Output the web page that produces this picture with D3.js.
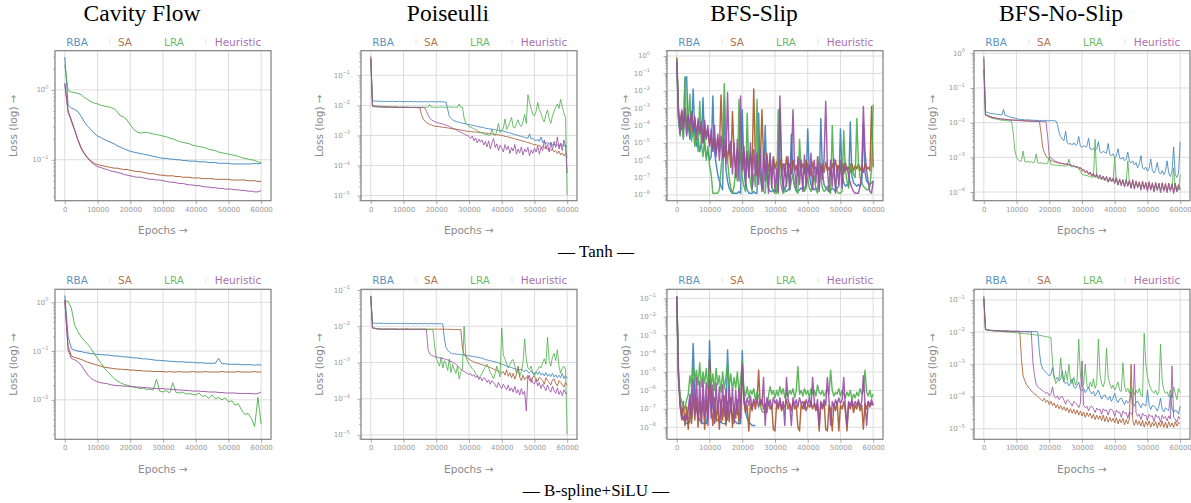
<!DOCTYPE html>
<html>
<head>
<meta charset="utf-8">
<script src="https://cdn.jsdelivr.net/npm/d3@7"></script>
<style>
  body { margin: 0; background: #fff; }
  svg { display: block; }
</style>
</head>
<body>
<script>
// names, colours and text
const methods = ["RBA", "SA", "LRA", "Heuristic"];
const colors = ["#377eb8", "#a65628", "#4daf4a", "#984ea3"];
const titles = ["Cavity Flow", "Poiseulli", "BFS-Slip", "BFS-No-Slip"];
const rowCaptions = ["\u2014 Tanh \u2014", "\u2014 B-spline+SiLU \u2014"];
const xTicks = [0, 10000, 20000, 30000, 40000, 50000, 60000];
const xLimits = [-3000, 63000];

// log10 axis limits and decade ticks, one per panel (row 1 then row 2)
const yLimits = [
  [-1.586, 0.561], [-5.17, -0.18], [-8.33, 0.305], [-4.25, 0.075],
  [-2.81, 0.267], [-5.12, -0.98], [-8.65, -0.51], [-5.33, -0.67],
];
const yTickExps = [
  [0, -1], [-1, -2, -3, -4, -5], [0, -1, -2, -3, -4, -5, -6, -7, -8], [0, -1, -2, -3, -4],
  [0, -1, -2], [-1, -2, -3, -4, -5], [-1, -2, -3, -4, -5, -6, -7, -8], [-1, -2, -3, -4, -5],
];
// epochs between two stored values
const steps = [1000, 500, 500, 500, 1000, 500, 500, 500];

// ---- loss values, log10 ----
// cavity flow, tanh (every 1000 epochs)
const cavTanhRBA = [0.47, -0.22, -0.26, -0.28, -0.31, -0.38, -0.46, -0.52, -0.57, -0.62, -0.66, -0.68, -0.71, -0.73, -0.75, -0.77, -0.80, -0.82, -0.84, -0.86, -0.88, -0.89, -0.90, -0.91, -0.92, -0.93, -0.94, -0.95, -0.96, -0.97, -0.98, -0.98, -0.99, -0.99, -1.00, -1.00, -1.01, -1.01, -1.02, -1.02, -1.02, -1.03, -1.03, -1.03, -1.04, -1.04, -1.04, -1.05, -1.05, -1.05, -1.05, -1.06, -1.06, -1.06, -1.06, -1.06, -1.06, -1.06, -1.05, -1.06, -1.05];
const cavTanhSA = [0.10, -0.30, -0.43, -0.57, -0.71, -0.83, -0.91, -0.97, -1.02, -1.05, -1.07, -1.08, -1.09, -1.10, -1.11, -1.12, -1.12, -1.13, -1.14, -1.14, -1.15, -1.16, -1.17, -1.17, -1.18, -1.19, -1.20, -1.20, -1.21, -1.22, -1.22, -1.23, -1.23, -1.23, -1.24, -1.24, -1.25, -1.25, -1.25, -1.26, -1.26, -1.26, -1.27, -1.27, -1.27, -1.27, -1.28, -1.28, -1.28, -1.28, -1.28, -1.29, -1.29, -1.29, -1.29, -1.29, -1.30, -1.30, -1.30, -1.31, -1.31];
const cavTanhLRA = [0.36, -0.01, -0.03, -0.04, -0.05, -0.07, -0.11, -0.14, -0.17, -0.19, -0.20, -0.22, -0.23, -0.24, -0.25, -0.27, -0.31, -0.37, -0.39, -0.43, -0.50, -0.56, -0.60, -0.62, -0.61, -0.61, -0.62, -0.63, -0.64, -0.65, -0.66, -0.67, -0.69, -0.70, -0.72, -0.74, -0.75, -0.76, -0.77, -0.79, -0.80, -0.81, -0.82, -0.83, -0.85, -0.86, -0.87, -0.89, -0.90, -0.91, -0.92, -0.93, -0.94, -0.95, -0.97, -0.98, -0.99, -1.00, -1.01, -1.03, -1.04];
const cavTanhHeur = [0.08, -0.32, -0.45, -0.58, -0.72, -0.84, -0.92, -0.98, -1.03, -1.07, -1.10, -1.11, -1.13, -1.14, -1.16, -1.17, -1.18, -1.19, -1.21, -1.22, -1.23, -1.24, -1.25, -1.25, -1.26, -1.27, -1.28, -1.28, -1.29, -1.29, -1.30, -1.31, -1.32, -1.32, -1.33, -1.34, -1.34, -1.35, -1.36, -1.36, -1.37, -1.37, -1.38, -1.39, -1.39, -1.40, -1.40, -1.41, -1.41, -1.42, -1.42, -1.42, -1.43, -1.43, -1.44, -1.44, -1.45, -1.45, -1.46, -1.46, -1.44];

// poiseulli, tanh (every 500 epochs)
const poisTanhRBA = [-0.40,
  -1.84, -1.85, -1.86, -1.86, -1.86, -1.87, -1.86, -1.87, -1.87, -1.86,
  -1.87, -1.87, -1.86, -1.87, -1.87, -1.87, -1.86, -1.87, -1.87, -1.88,
  -1.87, -1.87, -1.88, -1.87, -1.87, -1.88, -1.87, -1.88, -1.88, -1.87,
  -1.88, -1.88, -1.87, -1.88, -1.88, -1.88, -1.87, -1.88, -1.88, -1.88,
  -1.88, -1.87, -1.88, -1.88, -1.89, -1.89, -2.14, -2.37, -2.43, -2.48,
  -2.51, -2.53, -2.55, -2.56, -2.58, -2.59, -2.60, -2.61, -2.63, -2.64,
  -2.65, -2.66, -2.67, -2.68, -2.70, -2.71, -2.72, -2.73, -2.74, -2.76,
  -2.77, -2.78, -2.78, -2.79, -2.80, -2.81, -2.82, -2.83, -2.83, -2.84,
  -2.86, -2.87, -2.89, -2.90, -2.92, -2.93, -2.95, -2.97, -2.98, -3.00,
  -3.02, -3.03, -3.05, -3.06, -3.08, -3.09, -2.95, -3.12, -3.10, -3.14,
  -3.18, -3.12, -3.20, -3.05, -3.24, -3.20, -3.28, -3.22, -3.30, -3.22,
  -3.33, -3.28, -3.34, -3.30, -3.37, -3.25, -3.36, -3.30, -3.38, -3.35];
const poisTanhSA = [-0.37,
  -2.00, -2.01, -2.02, -2.02, -2.03, -2.03, -2.03, -2.04, -2.04, -2.04,
  -2.04, -2.05, -2.05, -2.05, -2.05, -2.05, -2.06, -2.06, -2.06, -2.06,
  -2.06, -2.06, -2.07, -2.07, -2.07, -2.07, -2.07, -2.07, -2.08, -2.08,
  -2.31, -2.45, -2.52, -2.57, -2.60, -2.63, -2.65, -2.67, -2.69, -2.70,
  -2.70, -2.71, -2.72, -2.73, -2.73, -2.74, -2.75, -2.76, -2.77, -2.78,
  -2.78, -2.79, -2.80, -2.81, -2.82, -2.83, -2.84, -2.85, -2.86, -2.87,
  -2.87, -2.88, -2.88, -2.89, -2.89, -2.90, -2.90, -2.91, -2.91, -2.92,
  -2.93, -2.94, -2.94, -2.95, -2.96, -2.97, -2.97, -2.98, -2.99, -3.00,
  -3.01, -3.03, -3.04, -3.05, -3.07, -3.08, -3.10, -3.11, -3.13, -3.14,
  -3.16, -3.17, -3.19, -3.20, -3.22, -3.24, -3.25, -3.27, -3.29, -3.31,
  -3.30, -3.35, -3.32, -3.40, -3.36, -3.42, -3.40, -3.47, -3.44, -3.50,
  -3.46, -3.55, -3.50, -3.60, -3.52, -3.65, -3.58, -3.68, -3.60, -3.72];
const poisTanhLRA = [-0.50,
  -2.02, -2.03, -2.04, -2.04, -2.05, -2.05, -2.05, -2.05, -2.06, -2.05,
  -2.06, -2.05, -2.06, -2.06, -2.05, -2.06, -2.06, -2.06, -2.05, -2.06,
  -2.06, -2.06, -2.05, -2.06, -2.06, -2.06, -2.06, -2.06, -2.06, -2.06,
  -2.06, -2.06, -2.06, -2.06, -2.06, -1.97, -2.06, -2.06, -2.06, -2.06,
  -2.06, -2.06, -2.05, -2.06, -2.06, -2.06, -2.06, -2.05, -2.06, -2.06,
  -2.06, -2.06, -2.06, -1.95, -2.06, -2.06, -2.42, -2.59, -2.65, -2.70,
  -2.72, -2.75, -2.78, -2.81, -2.84, -2.87, -2.89, -2.92, -2.94, -2.97,
  -2.96, -3.00, -2.98, -2.80, -2.95, -3.00, -2.85, -2.60, -2.90, -2.85,
  -2.75, -2.45, -2.80, -2.70, -2.55, -2.40, -2.72, -2.75, -2.60, -2.48,
  -2.65, -2.70, -2.55, -2.30, -2.60, -1.65, -1.90, -2.10, -2.30, -2.35,
  -2.20, -1.90, -2.15, -2.25, -2.45, -2.55, -2.30, -2.15, -2.45, -2.60,
  -2.35, -2.20, -2.05, -1.95, -2.10, -1.80, -2.05, -2.25, -2.40, -4.98];
const poisTanhHeur = [-0.45,
  -2.03, -2.04, -2.05, -2.05, -2.05, -2.06, -2.06, -2.06, -2.06, -2.06,
  -2.06, -2.06, -2.07, -2.07, -2.07, -2.07, -2.07, -2.07, -2.07, -2.07,
  -2.07, -2.07, -2.07, -2.07, -2.07, -2.07, -2.07, -2.07, -2.07, -2.07,
  -2.07, -2.07, -2.08, -2.20, -2.32, -2.42, -2.48, -2.51, -2.54, -2.56,
  -2.58, -2.59, -2.61, -2.62, -2.64, -2.66, -2.68, -2.70, -2.73, -2.76,
  -2.78, -2.81, -2.84, -2.87, -2.89, -2.92, -2.95, -2.98, -3.00, -3.03,
  -3.10, -3.02, -3.18, -3.08, -3.25, -3.12, -3.22, -3.15, -3.32, -3.20,
  -3.38, -3.18, -3.45, -3.25, -3.10, -3.40, -3.28, -3.50, -3.32, -3.42,
  -3.55, -3.30, -3.48, -3.35, -3.60, -3.40, -3.52, -3.30, -3.62, -3.45,
  -3.58, -3.38, -3.65, -3.45, -3.55, -3.40, -3.68, -3.48, -3.60, -3.42,
  -3.55, -3.35, -3.62, -3.40, -3.50, -3.15, -3.45, -3.30, -3.55, -3.25,
  -3.48, -3.20, -3.40, -3.05, -3.45, -3.28, -3.50, -3.15, -3.35, -4.25];

// bfs slip, tanh (every 500 epochs)
const slipTanhRBA = [-0.3,
  -3.6, -4.4, -3.9, -4.7, -1.3, -1.2, -4.0, -4.8, -4.3, -1.9,
  -4.5, -5.2, -4.8, -5.5, -5.0, -2.4, -5.2, -5.8, -5.5, -6.0,
  -5.8, -2.3, -5.5, -6.2, -6.8, -7.2, -7.5, -7.7, -2.5, -6.5,
  -7.2, -7.6, -7.8, -7.9, -7.9, -7.9, -7.9, -7.8, -7.9, -3.1,
  -6.5, -7.3, -7.7, -7.9, -7.9, -7.9, -7.8, -7.9, -7.9, -3.3,
  -6.8, -7.4, -7.7, -4.0, -7.0, -7.6, -7.8, -7.8, -7.7, -7.8,
  -7.7, -7.8, -3.1, -6.8, -7.4, -7.7, -7.8, -7.7, -7.6, -4.5,
  -7.0, -7.5, -7.7, -7.8, -7.7, -7.6, -7.7, -7.6, -7.5, -4.2,
  -6.9, -7.4, -7.6, -7.7, -7.6, -7.7, -7.5, -3.6, -6.8, -7.4,
  -7.6, -7.7, -7.8, -7.7, -7.6, -7.7, -7.8, -7.6, -7.5, -4.2,
  -6.8, -7.3, -7.5, -7.4, -7.5, -3.8, -6.9, -7.3, -7.4, -7.5,
  -7.4, -7.5, -7.3, -3.9, -6.7, -7.2, -7.3, -7.4, -7.3, -7.2];
const slipTanhSA = [-0.08,
  -3.0, -3.9, -3.2, -4.3, -3.1, -4.0, -3.4, -4.5, -3.3, -4.2,
  -3.6, -4.6, -3.8, -4.4, -3.9, -5.0, -4.1, -4.8, -4.3, -5.1,
  -4.6, -5.4, -4.8, -5.6, -4.7, -5.5, -2.25, -5.0, -5.8, -5.2,
  -6.0, -5.1, -6.4, -3.2, -5.5, -6.5, -5.4, -6.2, -5.6, -6.6,
  -5.5, -6.3, -5.7, -6.8, -5.6, -6.5, -1.9, -5.8, -6.9, -5.7,
  -6.4, -3.1, -5.9, -6.7, -5.6, -6.6, -6.0, -6.9, -5.8, -6.5,
  -6.1, -6.8, -5.9, -6.6, -6.2, -6.9, -5.8, -6.5, -6.2, -6.8,
  -6.0, -6.6, -6.3, -6.9, -5.9, -6.5, -6.2, -6.8, -6.0, -6.6,
  -6.3, -6.9, -6.1, -6.5, -6.4, -6.8, -6.0, -6.6, -6.3, -6.7,
  -6.1, -6.6, -6.4, -6.9, -6.2, -6.5, -6.0, -6.7, -6.3, -6.6,
  -6.2, -6.8, -6.1, -6.5, -6.4, -6.7, -6.2, -6.6, -6.3, -6.5,
  -6.2, -6.6, -6.3, -6.7, -6.2, -6.5, -6.4, -6.6, -2.9, -6.4];
const slipTanhLRA = [-0.2,
  -3.5, -4.6, -3.2, -4.8, -1.2, -4.5, -3.8, -2.2, -4.9, -4.2,
  -5.2, -4.4, -5.5, -2.6, -5.0, -5.8, -4.8, -6.0, -5.2, -6.3,
  -6.8, -7.9, -7.9, -7.9, -7.9, -7.7, -6.5, -5.5, -1.6, -5.0,
  -6.0, -7.0, -7.6, -7.9, -7.5, -6.5, -7.2, -2.5, -6.0, -7.0,
  -7.5, -7.8, -3.3, -6.5, -7.3, -7.8, -6.8, -7.5, -2.5, -6.2,
  -7.0, -7.6, -7.8, -7.9, -6.6, -7.4, -5.6, -7.5, -7.8, -7.9,
  -7.9, -3.1, -6.8, -7.6, -7.9, -7.8, -7.3, -6.5, -7.7, -7.2,
  -6.8, -7.5, -7.8, -7.9, -4.8, -6.6, -7.4, -7.8, -7.6, -7.0,
  -7.6, -7.8, -7.3, -6.9, -7.7, -7.9, -5.8, -7.0, -7.6, -7.8,
  -7.7, -7.5, -7.8, -7.9, -4.0, -6.8, -7.5, -7.8, -7.9, -7.9,
  -7.8, -4.3, -6.5, -7.2, -7.6, -6.2, -6.5, -6.8, -7.0, -3.6,
  -6.2, -7.0, -7.3, -7.5, -7.6, -7.7, -7.7, -7.5, -6.5, -2.8];
const slipTanhHeur = [-0.3,
  -3.3, -4.5, -3.1, -4.2, -3.0, -4.6, -3.4, -4.0, -3.2, -4.4,
  -3.5, -4.8, -3.6, -4.5, -3.8, -5.0, -3.7, -4.7, -4.0, -5.2,
  -4.2, -5.5, -4.0, -5.8, -4.5, -6.0, -4.6, -5.9, -4.8, -6.2,
  -2.1, -5.6, -4.9, -6.8, -5.0, -7.0, -4.8, -7.2, -2.3, -6.5,
  -5.2, -7.5, -5.5, -7.0, -5.0, -7.6, -5.4, -6.9, -5.6, -7.4,
  -5.3, -7.8, -5.5, -7.2, -5.8, -7.9, -5.6, -7.6, -5.9, -7.8,
  -6.5, -7.9, -2.3, -6.0, -7.8, -6.2, -7.5, -5.8, -7.7, -6.0,
  -3.1, -6.5, -7.6, -5.8, -7.4, -6.0, -7.8, -5.7, -7.5, -6.2,
  -7.0, -5.6, -7.7, -6.0, -7.3, -5.8, -7.8, -6.2, -7.1, -5.9,
  -2.6, -6.4, -7.8, -6.0, -7.5, -5.9, -7.9, -6.3, -7.4, -6.0,
  -7.6, -6.2, -6.6, -6.4, -6.9, -7.3, -7.6, -7.8, -7.9, -7.9,
  -7.9, -7.5, -6.8, -2.9, -5.5, -6.6, -7.3, -7.8, -7.9, -7.2];

// bfs no-slip, tanh (every 500 epochs)
const nsTanhRBA = [-0.15,
  -1.68, -1.70, -1.72, -1.73, -1.74, -1.74, -1.75, -1.76, -1.76, -1.77,
  -1.78, -1.62, -1.79, -1.80, -1.82, -1.84, -1.85, -1.86, -1.87, -1.88,
  -1.90, -1.91, -1.91, -1.91, -1.92, -1.92, -1.92, -1.92, -1.93, -1.93,
  -1.93, -1.94, -1.93, -1.94, -1.94, -1.93, -1.94, -1.94, -1.94, -1.95,
  -1.94, -1.94, -1.95, -1.95, -2.05, -2.29, -2.40, -2.48, -2.52, -2.25,
  -2.58, -2.62, -2.60, -2.64, -2.58, -2.66, -2.62, -2.40, -2.68, -2.72,
  -2.66, -2.70, -2.68, -2.45, -2.76, -2.78, -2.74, -2.80, -2.76, -2.55,
  -2.84, -2.87, -2.82, -2.86, -2.88, -2.60, -2.92, -2.95, -2.90, -3.01,
  -2.96, -2.75, -3.02, -3.05, -3.00, -3.10, -3.05, -2.85, -3.12, -3.16,
  -3.10, -3.22, -3.15, -3.30, -3.20, -2.95, -3.30, -3.35, -3.28, -3.40,
  -3.32, -3.05, -3.38, -3.45, -3.35, -3.15, -3.42, -3.48, -3.38, -3.50,
  -3.40, -3.10, -3.45, -3.55, -3.42, -2.70, -3.50, -3.58, -3.45, -2.55];
const nsTanhSA = [-0.09,
  -1.76, -1.78, -1.80, -1.82, -1.84, -1.85, -1.86, -1.87, -1.88, -1.88,
  -1.89, -1.90, -1.90, -1.91, -1.91, -1.92, -1.92, -1.92, -1.93, -1.93,
  -1.93, -1.94, -1.94, -1.94, -1.95, -1.95, -1.95, -1.95, -1.96, -1.96,
  -1.96, -1.96, -1.96, -1.97, -2.30, -2.72, -2.86, -2.96, -3.02, -3.06,
  -3.09, -3.11, -3.13, -3.14, -3.15, -3.16, -3.17, -3.18, -3.19, -3.20,
  -3.18, -3.23, -3.21, -3.25, -3.24, -3.28, -3.26, -3.32, -3.30, -3.40,
  -3.38, -3.45, -3.40, -3.50, -3.44, -3.55, -3.48, -3.58, -3.50, -3.60,
  -3.52, -3.62, -3.55, -3.66, -3.56, -3.70, -3.58, -3.68, -3.62, -3.72,
  -3.58, -3.80, -3.62, -3.78, -3.64, -3.85, -3.63, -3.82, -3.66, -3.88,
  -3.64, -3.90, -3.68, -3.86, -3.70, -3.92, -3.68, -3.90, -3.72, -3.95,
  -3.70, -3.92, -3.73, -3.96, -3.72, -3.93, -3.74, -3.98, -3.73, -3.95,
  -3.75, -3.98, -3.74, -3.95, -3.76, -4.00, -3.74, -3.97, -3.78, -3.92];
const nsTanhLRA = [-0.50,
  -1.78, -1.80, -1.83, -1.85, -1.87, -1.88, -1.89, -1.90, -1.91, -1.92,
  -1.93, -1.93, -1.94, -1.94, -1.95, -1.95, -1.96, -2.30, -2.80, -3.01,
  -3.07, -3.11, -3.10, -2.82, -3.12, -3.13, -3.12, -3.14, -3.13, -3.15,
  -3.14, -2.90, -3.16, -3.17, -3.15, -3.18, -3.17, -3.19, -3.18, -2.98,
  -3.21, -3.22, -3.21, -3.23, -3.22, -3.24, -3.23, -3.24, -3.25, -3.25,
  -3.24, -3.05, -3.26, -3.27, -3.26, -3.28, -3.29, -3.32, -3.40, -3.49,
  -3.50, -3.53, -3.52, -3.55, -3.54, -3.58, -3.56, -2.48, -3.58, -3.60,
  -3.62, -3.60, -3.64, -3.62, -3.66, -3.64, -3.68, -3.65, -3.70, -3.00,
  -3.70, -3.72, -3.70, -3.74, -3.72, -3.75, -3.73, -3.10, -3.76, -3.78,
  -3.76, -3.80, -3.78, -3.82, -3.80, -3.83, -3.82, -3.85, -3.83, -3.86,
  -3.84, -3.88, -3.85, -3.87, -3.86, -3.88, -3.87, -3.90, -3.88, -3.90,
  -3.89, -3.92, -3.90, -3.91, -3.90, -3.30, -3.92, -3.90, -3.94, -3.50];
const nsTanhHeur = [-0.45,
  -1.78, -1.80, -1.82, -1.84, -1.85, -1.86, -1.87, -1.88, -1.89, -1.89,
  -1.90, -1.90, -1.91, -1.91, -1.92, -1.92, -1.93, -1.93, -1.93, -1.93,
  -1.94, -1.94, -1.94, -1.95, -1.95, -1.95, -1.95, -1.96, -1.96, -1.96,
  -1.96, -1.96, -1.96, -1.97, -1.97, -1.97, -1.97, -1.97, -2.40, -2.96,
  -3.02, -3.05, -3.09, -3.12, -3.14, -3.16, -3.17, -3.18, -3.19, -3.20,
  -3.19, -3.22, -3.20, -3.26, -3.24, -3.28, -3.26, -3.31, -3.29, -3.35,
  -3.34, -3.42, -3.38, -3.47, -3.42, -3.52, -3.46, -3.56, -3.48, -3.60,
  -3.50, -3.64, -3.54, -3.67, -3.55, -3.72, -3.57, -3.70, -3.60, -3.76,
  -3.60, -3.80, -3.64, -3.83, -3.65, -3.86, -3.66, -3.84, -3.68, -3.90,
  -3.66, -3.92, -3.70, -3.88, -3.72, -3.95, -3.70, -3.92, -3.74, -3.98,
  -3.72, -3.95, -3.75, -4.00, -3.74, -3.96, -3.76, -4.02, -3.75, -3.98,
  -3.77, -4.02, -3.76, -3.98, -3.78, -4.05, -3.76, -4.00, -3.80, -3.95];

// cavity flow, b-spline+silu (every 1000 epochs)
const cavSplRBA = [0.14, -0.70, -0.95, -0.98, -1.00, -1.01, -1.03, -1.04, -1.05, -1.06, -1.07, -1.07, -1.08, -1.08, -1.09, -1.10, -1.10, -1.11, -1.12, -1.12, -1.13, -1.14, -1.14, -1.15, -1.16, -1.16, -1.17, -1.18, -1.19, -1.19, -1.20, -1.20, -1.21, -1.21, -1.22, -1.22, -1.22, -1.23, -1.23, -1.23, -1.24, -1.24, -1.24, -1.25, -1.25, -1.25, -1.25, -1.15, -1.26, -1.26, -1.27, -1.27, -1.27, -1.27, -1.28, -1.28, -1.28, -1.28, -1.29, -1.28, -1.29];
const cavSplSA = [0.03, -0.91, -1.10, -1.13, -1.15, -1.17, -1.20, -1.23, -1.25, -1.27, -1.29, -1.31, -1.33, -1.34, -1.35, -1.36, -1.37, -1.37, -1.38, -1.38, -1.39, -1.39, -1.40, -1.40, -1.41, -1.41, -1.41, -1.42, -1.42, -1.42, -1.42, -1.43, -1.42, -1.43, -1.43, -1.42, -1.43, -1.43, -1.43, -1.42, -1.43, -1.43, -1.43, -1.42, -1.43, -1.43, -1.43, -1.43, -1.42, -1.43, -1.43, -1.43, -1.43, -1.42, -1.43, -1.43, -1.43, -1.43, -1.42, -1.43, -1.43];
const cavSplLRA = [0.03, 0.02, -0.12, -0.47, -0.60, -0.71, -0.79, -0.86, -0.95, -1.05, -1.15, -1.25, -1.34, -1.42, -1.49, -1.56, -1.61, -1.65, -1.68, -1.70, -1.72, -1.74, -1.75, -1.77, -1.76, -1.79, -1.78, -1.80, -1.58, -1.82, -1.84, -1.81, -1.86, -1.65, -1.85, -1.86, -1.84, -1.88, -1.87, -1.89, -1.90, -1.86, -1.93, -1.91, -1.97, -1.90, -1.98, -1.95, -2.00, -1.96, -2.04, -2.02, -2.11, -2.08, -2.21, -2.30, -2.28, -2.38, -2.55, -1.95, -2.50];
const cavSplHeur = [0.05, -0.98, -1.15, -1.18, -1.22, -1.29, -1.39, -1.49, -1.56, -1.60, -1.63, -1.65, -1.66, -1.67, -1.69, -1.70, -1.71, -1.71, -1.72, -1.72, -1.73, -1.73, -1.74, -1.74, -1.75, -1.75, -1.76, -1.76, -1.77, -1.77, -1.77, -1.78, -1.78, -1.79, -1.79, -1.80, -1.80, -1.81, -1.81, -1.82, -1.82, -1.82, -1.83, -1.83, -1.84, -1.84, -1.84, -1.85, -1.85, -1.86, -1.86, -1.86, -1.86, -1.87, -1.87, -1.87, -1.87, -1.87, -1.88, -1.87, -1.84];

// poiseulli, b-spline+silu (every 500 epochs)
const poisSplRBA = [-1.17,
  -1.90, -1.91, -1.92, -1.92, -1.91, -1.92, -1.92, -1.92, -1.93, -1.92,
  -1.92, -1.92, -1.93, -1.92, -1.92, -1.93, -1.92, -1.92, -1.93, -1.92,
  -1.93, -1.92, -1.93, -1.92, -1.93, -1.93, -1.92, -1.93, -1.93, -1.92,
  -1.93, -1.93, -1.92, -1.93, -1.93, -1.93, -1.92, -1.93, -1.93, -1.93,
  -1.93, -1.93, -1.93, -1.94, -2.36, -2.59, -2.66, -2.71, -2.74, -2.76,
  -2.76, -2.77, -2.77, -2.78, -2.78, -2.79, -2.79, -2.80, -2.81, -2.82,
  -2.82, -2.83, -2.84, -2.85, -2.85, -2.86, -2.87, -2.88, -2.90, -2.92,
  -2.93, -2.94, -2.95, -2.96, -2.97, -2.98, -2.99, -3.01, -3.03, -3.05,
  -3.06, -3.08, -3.10, -3.11, -3.13, -3.14, -3.16, -3.17, -3.19, -3.21,
  -3.20, -3.18, -3.23, -3.25, -3.20, -3.27, -3.28, -3.22, -3.30, -3.31,
  -3.26, -3.33, -3.25, -3.35, -3.30, -3.37, -3.28, -3.38, -3.32, -3.39,
  -3.30, -3.40, -3.34, -3.42, -3.35, -3.42, -3.30, -3.44, -3.36, -3.44];
const poisSplSA = [-1.17,
  -2.04, -2.05, -2.06, -2.07, -2.07, -2.07, -2.08, -2.07, -2.08, -2.08,
  -2.07, -2.08, -2.08, -2.08, -2.07, -2.08, -2.08, -2.08, -2.08, -2.08,
  -2.08, -2.07, -2.08, -2.08, -2.08, -2.08, -2.08, -2.08, -2.08, -2.08,
  -2.08, -2.08, -2.08, -2.08, -2.08, -2.08, -2.08, -2.08, -2.08, -2.08,
  -2.08, -2.08, -2.08, -2.08, -2.08, -2.08, -2.09, -2.08, -2.09, -2.09,
  -2.09, -2.09, -2.09, -2.09, -2.09, -2.60, -2.78, -2.84, -2.87, -2.91,
  -2.94, -2.96, -2.99, -3.00, -3.02, -3.03, -3.05, -3.06, -3.07, -3.09,
  -3.10, -3.12, -3.14, -3.16, -3.18, -3.20, -3.22, -3.24, -3.26, -3.30,
  -3.25, -3.35, -3.20, -3.38, -3.28, -3.42, -3.30, -3.46, -3.32, -3.10,
  -3.40, -3.50, -3.35, -3.48, -3.40, -3.42, -3.36, -3.55, -3.40, -3.38,
  -3.45, -3.52, -3.40, -3.45, -3.50, -3.60, -3.42, -3.50, -3.55, -3.62,
  -3.48, -3.45, -3.58, -3.65, -3.50, -3.55, -3.62, -3.68, -3.55, -3.62];
const poisSplLRA = [-1.17,
  -2.04, -2.05, -2.06, -2.07, -2.07, -2.08, -2.08, -2.08, -2.07, -2.08,
  -2.08, -2.08, -2.08, -2.07, -2.08, -2.08, -2.08, -2.08, -2.08, -2.08,
  -2.08, -2.08, -2.08, -2.08, -2.08, -2.08, -2.08, -2.08, -2.08, -2.08,
  -2.08, -2.08, -2.08, -2.08, -2.09, -2.09, -2.09, -2.10, -2.54, -2.87,
  -3.00, -3.10, -2.85, -3.15, -2.95, -3.05, -3.22, -2.90, -3.28, -3.05,
  -3.20, -3.30, -3.10, -3.46, -3.25, -3.20, -2.00, -2.80, -2.95, -3.05,
  -3.10, -3.17, -3.22, -3.30, -3.36, -3.42, -3.38, -3.30, -3.20, -3.12,
  -3.05, -3.15, -3.28, -3.35, -3.45, -3.30, -3.10, -3.25, -3.40, -2.05,
  -2.80, -2.90, -3.05, -3.15, -3.05, -2.95, -2.92, -3.10, -3.30, -3.20,
  -3.38, -3.25, -3.00, -2.35, -2.90, -3.15, -3.20, -3.10, -3.30, -3.38,
  -3.25, -3.20, -3.10, -3.15, -3.00, -2.90, -3.05, -2.30, -2.95, -3.10,
  -2.85, -2.75, -2.95, -2.65, -3.10, -3.30, -3.15, -3.10, -3.20, -4.98];
const poisSplHeur = [-1.17,
  -2.05, -2.06, -2.07, -2.08, -2.08, -2.08, -2.09, -2.08, -2.08, -2.09,
  -2.08, -2.08, -2.09, -2.08, -2.09, -2.08, -2.09, -2.09, -2.08, -2.09,
  -2.09, -2.08, -2.09, -2.09, -2.09, -2.09, -2.09, -2.09, -2.09, -2.09,
  -2.09, -2.09, -2.09, -2.10, -2.64, -2.77, -2.80, -2.82, -2.84, -2.85,
  -2.86, -2.87, -2.88, -2.89, -2.90, -2.92, -2.93, -2.95, -2.97, -2.99,
  -3.02, -3.05, -3.09, -3.14, -3.18, -3.23, -3.25, -3.28, -3.30, -3.33,
  -3.30, -3.38, -3.33, -3.42, -3.36, -3.47, -3.40, -3.51, -3.42, -3.45,
  -3.55, -3.48, -3.60, -3.50, -3.55, -3.62, -3.69, -3.55, -3.65, -3.72,
  -3.60, -3.68, -3.75, -3.62, -3.79, -3.70, -3.82, -3.66, -3.85, -3.75,
  -3.90, -3.72, -3.88, -3.80, -4.34, -3.35, -3.50, -3.45, -3.55, -3.60,
  -3.45, -3.65, -3.55, -3.72, -3.60, -3.68, -3.78, -3.62, -3.75, -3.82,
  -3.65, -3.78, -3.85, -3.70, -3.88, -3.78, -3.92, -3.75, -3.85, -3.85];

// bfs slip, b-spline+silu (every 500 epochs, RBA stops at 24000)
const slipSplRBA = [-0.9,
  -5.2, -6.5, -7.2, -7.5, -7.7, -7.8, -7.8, -7.7, -6.0, -3.45,
  -6.2, -7.0, -7.4, -7.6, -7.7, -7.8, -7.8, -7.8, -7.2, -3.3,
  -6.0, -6.9, -7.3, -7.5, -7.6, -7.7, -7.7, -7.8, -7.8, -7.8,
  -3.8, -6.3, -7.0, -7.4, -7.6, -7.7, -7.8, -7.8, -7.8, -3.85,
  -6.5, -7.2, -7.5, -7.7, -7.8, -7.9, -7.9, -7.9];
const slipSplSA = [-0.9,
  -5.0, -6.8, -7.6, -6.6, -7.9, -6.9, -8.1, -6.5, -7.8, -6.2,
  -7.6, -6.4, -8.0, -6.6, -7.7, -6.3, -8.1, -6.5, -7.5, -4.35,
  -6.8, -7.9, -6.4, -7.7, -6.6, -8.1, -6.5, -7.6, -6.3, -7.9,
  -6.6, -7.7, -6.4, -8.0, -6.7, -7.5, -6.5, -7.8, -6.6, -4.8,
  -6.6, -7.2, -6.8, -8.2, -6.7, -7.1, -6.5, -7.0, -6.6, -4.9,
  -6.8, -6.5, -7.0, -6.7, -7.2, -6.6, -7.0, -6.8, -8.1, -8.2,
  -6.7, -7.0, -6.6, -7.1, -6.8, -6.9, -6.5, -7.0, -6.7, -7.1,
  -6.6, -7.0, -6.8, -8.0, -8.2, -6.7, -7.0, -6.6, -7.1, -6.8,
  -6.9, -6.6, -7.0, -6.7, -7.1, -6.8, -8.2, -6.7, -7.0, -6.6,
  -8.1, -8.2, -6.8, -7.0, -8.2, -6.7, -7.1, -6.6, -8.2, -6.8,
  -7.0, -6.6, -7.1, -8.2, -6.7, -7.0, -6.6, -7.2, -6.8, -7.0,
  -6.6, -7.1, -6.8, -8.1, -6.7, -7.0, -6.6, -6.9, -6.7, -6.8];
const slipSplLRA = [-0.9,
  -5.0, -6.3, -6.6, -6.8, -7.0, -6.5, -6.2, -5.2, -5.8, -4.7,
  -5.5, -4.9, -5.7, -4.5, -5.8, -5.0, -5.6, -4.8, -5.9, -4.9,
  -5.8, -5.1, -6.0, -4.8, -5.7, -5.2, -6.1, -5.0, -5.9, -5.3,
  -4.5, -5.8, -5.1, -6.0, -5.3, -5.9, -5.0, -6.1, -5.4, -4.4,
  -6.0, -6.3, -5.8, -6.4, -6.0, -6.2, -5.9, -6.5, -6.1, -6.3,
  -6.8, -7.1, -7.2, -7.1, -7.0, -6.3, -5.8, -6.2, -6.0, -6.4,
  -6.0, -6.3, -5.8, -6.2, -5.9, -6.4, -6.1, -6.3, -6.0, -6.2,
  -5.9, -6.4, -6.0, -4.7, -6.2, -6.0, -6.3, -5.9, -6.2, -6.0,
  -6.4, -5.9, -6.2, -6.0, -6.3, -5.7, -6.1, -6.2, -6.0, -6.3,
  -6.1, -5.9, -6.2, -4.9, -6.0, -6.3, -6.1, -6.2, -5.9, -6.3,
  -6.0, -6.2, -6.4, -6.1, -6.3, -6.0, -6.5, -6.2, -6.4, -6.1,
  -6.3, -5.9, -6.2, -6.0, -4.9, -6.1, -6.3, -6.0, -6.4, -6.2];
const slipSplHeur = [-0.9,
  -5.3, -6.8, -7.4, -7.6, -7.3, -7.6, -7.0, -6.2, -7.5, -5.4,
  -7.3, -5.3, -7.6, -5.5, -7.8, -5.4, -7.4, -5.6, -7.9, -5.5,
  -7.5, -5.7, -7.8, -5.6, -7.3, -5.8, -7.7, -5.7, -7.4, -5.9,
  -7.6, -5.8, -7.2, -5.9, -7.8, -6.0, -7.3, -5.9, -7.5, -4.6,
  -6.3, -6.9, -6.4, -6.8, -6.3, -7.0, -6.5, -6.7, -6.4, -6.9,
  -6.5, -6.8, -5.3, -7.9, -6.4, -6.8, -6.5, -7.0, -6.4, -6.7,
  -6.5, -6.9, -6.4, -7.0, -6.6, -7.9, -5.3, -6.5, -6.8, -7.9,
  -6.4, -6.8, -6.5, -6.9, -6.4, -6.7, -6.6, -7.0, -6.5, -6.8,
  -6.4, -6.9, -5.3, -6.6, -7.0, -6.5, -7.9, -6.6, -6.9, -6.5,
  -6.8, -5.3, -6.5, -7.9, -6.6, -6.9, -6.5, -6.8, -6.4, -6.7,
  -6.5, -5.3, -6.9, -7.9, -6.6, -6.8, -6.5, -6.9, -6.6, -6.8,
  -6.5, -6.9, -6.6, -5.2, -6.7, -7.9, -6.6, -6.8, -6.5, -6.8];

// bfs no-slip, b-spline+silu (every 500 epochs)
const nsSplRBA = [-0.88,
  -1.90, -1.92, -1.93, -1.94, -1.94, -1.95, -1.95, -1.95, -1.95, -1.96,
  -1.96, -1.96, -1.96, -1.96, -1.97, -1.97, -1.97, -1.97, -1.97, -1.97,
  -1.97, -1.98, -1.98, -1.98, -1.98, -1.98, -1.98, -1.98, -1.98, -1.98,
  -1.98, -1.98, -2.00, -2.64, -3.00, -3.15, -3.20, -3.25, -3.30, -3.36,
  -3.30, -3.10, -3.42, -3.47, -3.40, -3.52, -3.45, -3.20, -3.56, -3.60,
  -3.55, -3.67, -3.60, -3.45, -3.70, -3.75, -3.65, -3.55, -3.80, -3.82,
  -3.75, -3.88, -3.80, -3.70, -3.85, -3.92, -3.84, -3.98, -3.90, -3.80,
  -3.95, -4.08, -3.98, -3.95, -4.05, -4.10, -4.00, -4.15, -4.05, -3.90,
  -4.10, -4.19, -4.08, -4.05, -4.15, -4.25, -4.12, -4.20, -4.15, -3.85,
  -4.20, -4.30, -4.18, -4.15, -4.25, -4.35, -4.22, -4.25, -4.30, -3.80,
  -4.25, -4.40, -4.28, -4.30, -4.35, -4.45, -4.30, -4.05, -4.40, -4.48,
  -4.35, -4.40, -4.45, -3.95, -4.38, -4.50, -4.42, -4.45, -4.55, -4.30];
const nsSplSA = [-0.95,
  -1.92, -1.93, -1.94, -1.95, -1.95, -1.96, -1.96, -1.96, -1.96, -1.97,
  -1.97, -1.97, -1.97, -1.97, -1.97, -1.98, -1.98, -1.98, -1.98, -1.98,
  -1.98, -1.99, -2.84, -3.36, -3.50, -3.62, -3.70, -3.75, -3.82, -3.88,
  -3.92, -3.95, -4.00, -4.05, -4.10, -4.14, -4.05, -4.18, -4.12, -4.25,
  -4.15, -4.28, -4.20, -4.35, -4.25, -4.38, -4.28, -4.42, -4.32, -4.45,
  -4.35, -4.50, -4.38, -4.52, -4.40, -4.55, -4.42, -4.58, -4.45, -4.60,
  -4.48, -4.65, -4.50, -4.62, -4.52, -4.68, -4.55, -4.72, -4.58, -4.71,
  -4.60, -4.75, -4.58, -4.78, -4.62, -4.80, -4.65, -4.78, -4.68, -4.82,
  -4.66, -4.85, -4.70, -4.82, -4.68, -4.88, -4.72, -4.85, -4.70, -3.00,
  -4.75, -4.90, -4.72, -4.88, -4.76, -4.92, -4.74, -4.95, -4.78, -4.90,
  -4.76, -4.95, -4.80, -4.92, -4.78, -4.97, -4.80, -4.94, -4.76, -4.96,
  -4.80, -4.98, -4.78, -4.94, -4.82, -4.96, -4.78, -4.92, -4.80, -4.85];
const nsSplLRA = [-0.95,
  -1.92, -1.93, -1.94, -1.95, -1.95, -1.96, -1.96, -1.97, -1.97, -1.98,
  -1.98, -1.99, -1.99, -2.00, -2.00, -2.00, -2.01, -2.01, -2.02, -2.02,
  -2.03, -2.03, -2.04, -2.04, -2.05, -2.05, -2.06, -2.06, -2.07, -2.08,
  -2.08, -2.09, -2.09, -2.10, -2.11, -2.12, -2.13, -2.14, -2.15, -2.16,
  -2.17, -2.95, -3.40, -3.60, -3.50, -3.45, -2.80, -3.40, -3.55, -3.20,
  -3.50, -3.00, -3.55, -3.60, -3.40, -3.65, -3.50, -2.22, -3.30, -3.70,
  -3.60, -3.00, -3.65, -3.75, -3.55, -3.70, -3.45, -3.75, -3.60, -2.22,
  -3.30, -3.60, -3.70, -3.50, -2.50, -3.40, -3.60, -3.75, -3.65, -3.80,
  -3.70, -3.55, -3.80, -3.85, -2.95, -3.70, -3.85, -3.75, -3.90, -3.70,
  -3.85, -3.95, -3.80, -3.90, -3.75, -3.95, -4.00, -2.04, -3.00, -3.40,
  -3.60, -3.75, -3.85, -3.90, -3.80, -3.95, -3.85, -2.38, -3.50, -3.80,
  -3.90, -3.85, -4.00, -3.80, -4.05, -3.70, -3.90, -4.10, -3.75, -3.88];
const nsSplHeur = [-0.95,
  -1.92, -1.93, -1.94, -1.95, -1.95, -1.96, -1.96, -1.96, -1.96, -1.97,
  -1.97, -1.97, -1.97, -1.97, -1.97, -1.98, -1.98, -1.98, -1.98, -1.98,
  -1.98, -1.98, -1.98, -1.98, -1.98, -1.99, -1.99, -1.99, -1.99, -2.95,
  -3.35, -3.62, -3.70, -3.75, -3.78, -3.82, -3.86, -3.90, -3.88, -3.98,
  -3.92, -3.70, -4.00, -4.05, -3.98, -4.10, -4.02, -4.00, -4.12, -4.24,
  -4.10, -4.15, -4.20, -4.30, -4.15, -4.20, -4.25, -4.35, -4.22, -2.90,
  -4.28, -4.35, -4.30, -4.45, -4.32, -4.30, -4.38, -4.50, -4.36, -4.42,
  -4.40, -4.55, -4.38, -4.45, -4.42, -4.58, -4.40, -4.40, -4.45, -4.62,
  -4.42, -4.50, -4.48, -4.65, -4.45, -4.52, -4.50, -4.68, -4.48, -4.55,
  -4.52, -3.00, -4.50, -4.62, -4.55, -4.72, -4.52, -4.60, -4.58, -4.75,
  -4.55, -4.62, -4.60, -4.78, -4.56, -4.65, -4.62, -4.80, -4.58, -4.68,
  -4.62, -4.76, -4.60, -4.70, -3.05, -4.65, -4.70, -4.80, -4.62, -4.70];

// series per panel, in the order RBA, SA, LRA, Heuristic
const panelSeries = [
  [cavTanhRBA, cavTanhSA, cavTanhLRA, cavTanhHeur],
  [poisTanhRBA, poisTanhSA, poisTanhLRA, poisTanhHeur],
  [slipTanhRBA, slipTanhSA, slipTanhLRA, slipTanhHeur],
  [nsTanhRBA, nsTanhSA, nsTanhLRA, nsTanhHeur],
  [cavSplRBA, cavSplSA, cavSplLRA, cavSplHeur],
  [poisSplRBA, poisSplSA, poisSplLRA, poisSplHeur],
  [slipSplRBA, slipSplSA, slipSplLRA, slipSplHeur],
  [nsSplRBA, nsSplSA, nsSplLRA, nsSplHeur],
];

// ---- layout ----
const w = 1191;
const h = 503;
const boxLeft = [55, 361, 667, 974];
const boxTop = [50.7, 289.3];
const boxW = 216;
const boxH = 150;
const tickGap = [6.5, 11, 17, 9, 6.5, 11, 11, 9];
const lineWidth = [1, 0.9, 1.45, 0.9, 1, 0.9, 1.45, 0.9];
const sans = "'DejaVu Sans', sans-serif";
const serif = "'Liberation Serif', 'Times New Roman', serif";

const svg = d3.select("body").append("svg").attr("width", w).attr("height", h);

// column titles
svg
  .selectAll("text.title")
  .data(titles)
  .enter()
  .append("text")
  .attr("class", "title")
  .attr("x", (d, i) => boxLeft[i] + boxW / 2 - 21)
  .attr("y", 21)
  .attr("text-anchor", "middle")
  .attr("font-family", serif)
  .attr("font-size", 23.5)
  .attr("fill", "#000")
  .text((d) => d);

// activation captions under each row
svg
  .selectAll("text.caption")
  .data(rowCaptions)
  .enter()
  .append("text")
  .attr("class", "caption")
  .attr("x", 596)
  .attr("y", (d, i) => (i === 0 ? 257 : 496))
  .attr("text-anchor", "middle")
  .attr("font-family", serif)
  .attr("font-size", 17)
  .attr("fill", "#000")
  .text((d) => d);

const legendX = [22, 70, 119, 183];
const legendMarks = [55, 151];

panelSeries.forEach((series, p) => {
  const row = Math.floor(p / 4);
  const col = p % 4;
  const left = boxLeft[col];
  const top = boxTop[row];
  const bottom = top + boxH;
  const step = steps[p];
  const lim = yLimits[p];

  //scales
  const xScale = d3.scaleLinear().domain(xLimits).range([left, left + boxW]);
  const yScale = d3
    .scaleLog()
    .domain([Math.pow(10, lim[0]), Math.pow(10, lim[1])])
    .range([bottom, top]);

  const g = svg.append("g");

  //grid
  g.selectAll("line.gx")
    .data(xTicks)
    .enter()
    .append("line")
    .attr("x1", (d) => xScale(d))
    .attr("x2", (d) => xScale(d))
    .attr("y1", top)
    .attr("y2", bottom)
    .attr("stroke", "#dddddd")
    .attr("stroke-width", 1);

  g.selectAll("line.gy")
    .data(yTickExps[p])
    .enter()
    .append("line")
    .attr("x1", left)
    .attr("x2", left + boxW)
    .attr("y1", (d) => yScale(Math.pow(10, d)))
    .attr("y2", (d) => yScale(Math.pow(10, d)))
    .attr("stroke", "#dddddd")
    .attr("stroke-width", 1);

  //x axis
  const xAxis = d3
    .axisBottom(xScale)
    .tickValues(xTicks)
    .tickSize(3.5)
    .tickPadding(2.5)
    .tickFormat(d3.format("d"));
  const gx = g.append("g").attr("transform", "translate(0," + bottom + ")").call(xAxis);
  gx.select(".domain").remove();
  gx.selectAll("line").attr("stroke", "#aaaaaa");
  gx.selectAll("text")
    .attr("font-family", sans)
    .attr("font-size", 7)
    .attr("fill", "#999999");

  //y axis: major and minor ticks
  const minors = [];
  for (let k = Math.floor(lim[0]); k <= Math.ceil(lim[1]); k++) {
    for (let m = 2; m <= 9; m++) {
      const v = k + Math.log10(m);
      if (v > lim[0] && v < lim[1]) minors.push(Math.pow(10, v));
    }
  }
  const yAxis = d3
    .axisLeft(yScale)
    .tickValues(yTickExps[p].map((d) => Math.pow(10, d)))
    .tickSize(3.5)
    .tickFormat("");
  const gy = g.append("g").attr("transform", "translate(" + left + ",0)").call(yAxis);
  gy.select(".domain").remove();
  gy.selectAll("line").attr("stroke", "#aaaaaa");

  const yMinor = d3.axisLeft(yScale).tickValues(minors).tickSize(2).tickFormat("");
  const gm = g.append("g").attr("transform", "translate(" + left + ",0)").call(yMinor);
  gm.select(".domain").remove();
  gm.selectAll("line").attr("stroke", "#bbbbbb");

  //y tick labels as 10^k
  g.selectAll("text.ytick")
    .data(yTickExps[p])
    .enter()
    .append("text")
    .attr("class", "ytick")
    .attr("x", left - tickGap[p])
    .attr("y", (d) => yScale(Math.pow(10, d)) + 2.5)
    .attr("text-anchor", "end")
    .attr("font-family", sans)
    .attr("font-size", 7)
    .attr("fill", "#999999")
    .each(function (d) {
      const t = d3.select(this);
      t.append("tspan").text("10");
      t.append("tspan")
        .attr("dy", -3.5)
        .attr("font-size", 5)
        .text(d === 0 ? "0" : "\u2212" + -d);
    });

  //axis labels
  g.append("text")
    .attr("x", left + boxW / 2)
    .attr("y", bottom + 33.5)
    .attr("text-anchor", "middle")
    .attr("font-family", sans)
    .attr("font-size", 10.5)
    .attr("fill", "#8a8a8a")
    .text("Epochs \u2192");

  g.append("text")
    .attr("transform", "translate(" + (left - 38) + "," + (top + boxH / 2) + ") rotate(-90)")
    .attr("text-anchor", "middle")
    .attr("font-family", sans)
    .attr("font-size", 10.5)
    .attr("fill", "#8a8a8a")
    .text("Loss (log) \u2192");

  //lines
  const clipId = "clip" + p;
  g.append("clipPath")
    .attr("id", clipId)
    .append("rect")
    .attr("x", left)
    .attr("y", top)
    .attr("width", boxW)
    .attr("height", boxH);

  const line = d3
    .line()
    .x((d, i) => xScale(i * step))
    .y((d) => yScale(Math.pow(10, d)));

  g.append("g")
    .attr("clip-path", "url(#" + clipId + ")")
    .selectAll("path")
    .data(series)
    .enter()
    .append("path")
    .attr("d", (d) => line(d))
    .attr("fill", "none")
    .attr("stroke", (d, i) => colors[i])
    .attr("stroke-width", lineWidth[p])
    .attr("stroke-opacity", 0.9)
    .attr("stroke-linejoin", "round");

  //frame
  g.append("rect")
    .attr("x", left)
    .attr("y", top)
    .attr("width", boxW)
    .attr("height", boxH)
    .attr("fill", "none")
    .attr("stroke", "#7f7f7f")
    .attr("stroke-width", 1.2);

  //legend above the box
  g.selectAll("text.leg")
    .data(methods)
    .enter()
    .append("text")
    .attr("x", (d, i) => left + legendX[i])
    .attr("y", top - 5)
    .attr("text-anchor", "middle")
    .attr("font-family", sans)
    .attr("font-size", 10.5)
    .attr("fill", (d, i) => colors[i])
    .attr("fill-opacity", 0.85)
    .text((d) => d);

  g.selectAll("line.legmark")
    .data(legendMarks)
    .enter()
    .append("line")
    .attr("x1", (d) => left + d)
    .attr("x2", (d) => left + d)
    .attr("y1", top - 12)
    .attr("y2", top - 6)
    .attr("stroke", "#e4e4e4")
    .attr("stroke-width", 1);
});
</script>
</body>
</html>
